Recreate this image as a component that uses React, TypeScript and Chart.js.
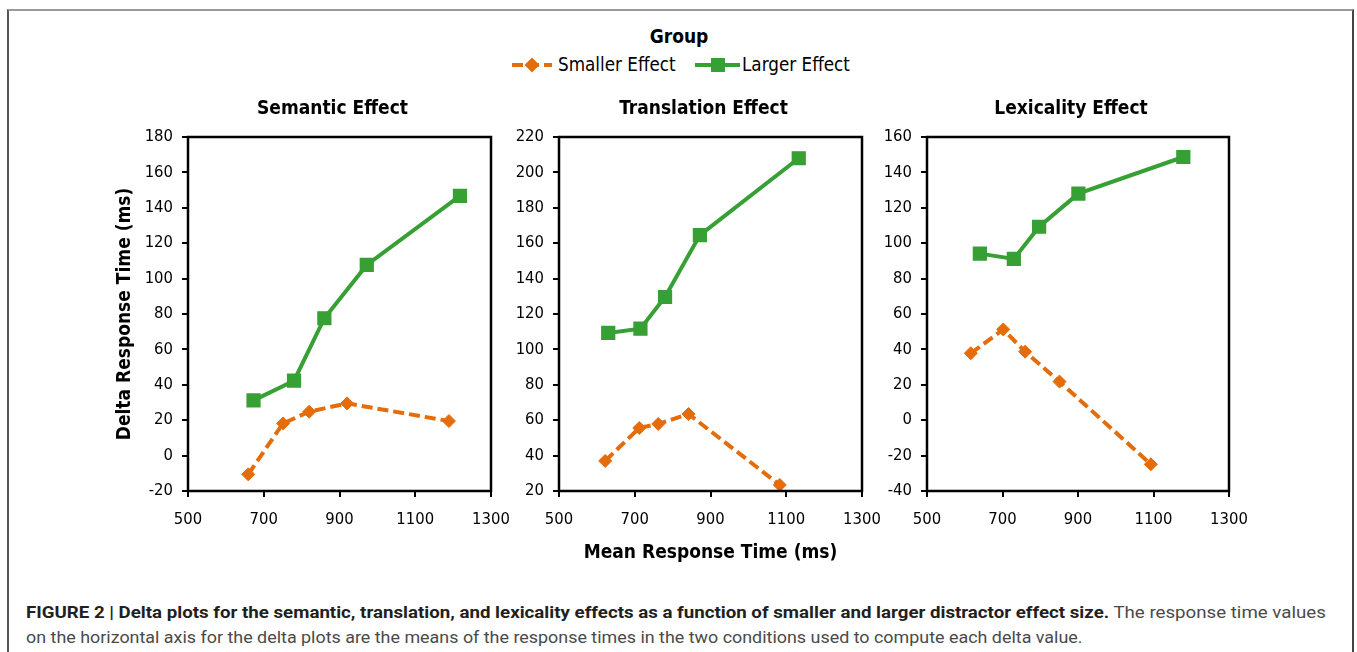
import React, { useEffect, useLayoutEffect, useRef } from 'react';
import { Chart, registerables } from 'chart.js';

Chart.register(...registerables);

// ---------- data ----------
const xTickValues = [500, 700, 900, 1100, 1300];
const seriesNames = ['Smaller Effect', 'Larger Effect'];
const panelTitles = ['Semantic Effect', 'Translation Effect', 'Lexicality Effect'];
const yMins = [-20, 20, -40];
const yMaxs = [180, 220, 160];

const semanticSmallerX = [659, 751, 820, 920, 1189];
const semanticSmallerY = [-10.6, 18.2, 24.8, 29.5, 19.5];
const semanticLargerX = [673, 780, 860, 972, 1218];
const semanticLargerY = [31.2, 42.3, 77.6, 107.7, 146.7];

const translationSmallerX = [622, 712, 762, 842, 1083];
const translationSmallerY = [37, 55.6, 57.9, 63.5, 23.4];
const translationLargerX = [630, 715, 780, 872, 1133];
const translationLargerY = [109.3, 111.7, 129.6, 164.6, 208];

const lexicalitySmallerX = [616, 702, 760, 851, 1093];
const lexicalitySmallerY = [37.8, 51.3, 38.7, 21.8, -24.9];
const lexicalityLargerX = [640, 730, 797, 901, 1179];
const lexicalityLargerY = [94.1, 91.1, 109.3, 128, 148.7];

const yAxisTitle = 'Delta Response Time (ms)';
const xAxisTitle = 'Mean Response Time (ms)';
const legendTitle = 'Group';
const captionBold = 'FIGURE 2 | Delta plots for the semantic, translation, and lexicality effects as a function of smaller and larger distractor effect size.';
const captionRest1 = ' The response time values';
const captionLine2 = 'on the horizontal axis for the delta plots are the means of the response times in the two conditions used to compute each delta value.';

// ---------- styles ----------
const ORANGE = '#E46C0A';
const GREEN = '#37A035';
const FONT = '"DejaVu Sans Condensed", "DejaVu Sans", sans-serif';
const TITLE_SIZE = 19;
const TICK_SIZE = 16.5;

const panelData = [
  [semanticSmallerX, semanticSmallerY, semanticLargerX, semanticLargerY],
  [translationSmallerX, translationSmallerY, translationLargerX, translationLargerY],
  [lexicalitySmallerX, lexicalitySmallerY, lexicalityLargerX, lexicalityLargerY],
];

const zip = (xs: number[], ys: number[]) => xs.map((x, i) => ({ x, y: ys[i] }));

// geometry of each canvas
const layouts = [
  { left: 100, top: 90, yW: 88, plotW: 303, padR: 40, xH: 40, yTitle: true, xTitle: false },
  { left: 499, top: 90, yW: 60, plotW: 303, padR: 40, xH: 75, yTitle: false, xTitle: true },
  { left: 867, top: 90, yW: 60, plotW: 302, padR: 40, xH: 40, yTitle: false, xTitle: false },
];
const TITLE_BLOCK = 47;
const PLOT_H = 354;
const TITLE_SHIFT = -7;

const framePlugin = {
  id: 'frame',
  afterLayout(chart: any) {
    const t = chart.titleBlock;
    if (t) {
      t.left += TITLE_SHIFT;
      t.right += TITLE_SHIFT;
    }
  },
  afterDraw(chart: any) {
    const { ctx, chartArea: a } = chart;
    ctx.save();
    ctx.strokeStyle = '#000';
    ctx.lineWidth = 2.5;
    ctx.strokeRect(a.left, a.top, a.right - a.left, a.bottom - a.top);
    ctx.restore();
  },
};

function canvasSize(i: number) {
  const l = layouts[i];
  return { w: l.yW + l.plotW + l.padR, h: TITLE_BLOCK + PLOT_H + l.xH };
}

export default function App() {
  const refs = [useRef<HTMLCanvasElement>(null), useRef<HTMLCanvasElement>(null), useRef<HTMLCanvasElement>(null)];
  const line1Ref = useRef<HTMLDivElement>(null);
  const line2Ref = useRef<HTMLDivElement>(null);

  useLayoutEffect(() => {
    document.body.style.margin = '0';
    const fit = (el: HTMLDivElement | null, target: number) => {
      if (!el) return;
      el.style.transform = 'none';
      const w = el.offsetWidth;
      if (w > 0) el.style.transform = `scaleX(${target / w})`;
    };
    fit(line1Ref.current, 1300);
    fit(line2Ref.current, 1057);
  }, []);

  useEffect(() => {
    const charts: Chart[] = [];
    layouts.forEach((l, i) => {
      const canvas = refs[i].current;
      if (!canvas) return;
      const [sx, sy, lx, ly] = panelData[i];
      const tickFont = { family: FONT, size: TICK_SIZE };
      const titleFont = { family: FONT, size: TITLE_SIZE, weight: 'bold' as const };
      const chart = new Chart(canvas, {
        type: 'line',
        data: {
          datasets: [
            {
              label: seriesNames[0],
              data: zip(sx, sy),
              borderColor: ORANGE,
              backgroundColor: ORANGE,
              borderWidth: 4,
              borderDash: [11, 5],
              pointStyle: 'rectRot',
              pointRadius: 6.5,
              pointBorderWidth: 1,
              pointBackgroundColor: ORANGE,
              pointBorderColor: ORANGE,
              tension: 0,
            },
            {
              label: seriesNames[1],
              data: zip(lx, ly),
              borderColor: GREEN,
              backgroundColor: GREEN,
              borderWidth: 4,
              pointStyle: 'rect',
              pointRadius: 9,
              pointBorderWidth: 1.5,
              pointBackgroundColor: GREEN,
              pointBorderColor: GREEN,
              tension: 0,
            },
          ],
        },
        options: {
          animation: false,
          responsive: false,
          devicePixelRatio: 1,
          events: [],
          layout: { padding: { left: 0, right: l.padR, top: 0, bottom: 0 } },
          plugins: {
            legend: { display: false },
            tooltip: { enabled: false },
            title: {
              display: true,
              fullSize: false,
              text: panelTitles[i],
              color: '#000',
              font: titleFont,
              padding: { top: 7.6, bottom: 16.6 },
            },
          },
          scales: {
            x: {
              type: 'linear',
              min: 500,
              max: 1300,
              afterBuildTicks: (s: any) => {
                s.ticks = xTickValues.map((v) => ({ value: v }));
              },
              afterFit: (s: any) => {
                s.height = l.xH;
              },
              border: { display: false },
              grid: { display: true, drawOnChartArea: false, drawTicks: true, tickLength: 6, color: '#000', lineWidth: 2 },
              ticks: {
                font: tickFont,
                color: '#000',
                padding: 13,
                maxRotation: 0,
                autoSkip: false,
                callback: (v: any) => String(v),
              },
              title: {
                display: l.xTitle,
                text: xAxisTitle,
                color: '#000',
                font: titleFont,
                padding: { top: 0, bottom: 1.6 },
              },
            },
            y: {
              type: 'linear',
              min: yMins[i],
              max: yMaxs[i],
              ticks: { stepSize: 20, font: tickFont, color: '#000', padding: 9, callback: (v: any) => String(v) },
              afterFit: (s: any) => {
                s.width = l.yW;
              },
              border: { display: false },
              grid: { display: true, drawOnChartArea: false, drawTicks: true, tickLength: 6, color: '#000', lineWidth: 2 },
              title: {
                display: l.yTitle,
                text: yAxisTitle,
                color: '#000',
                font: titleFont,
                padding: { top: 13.6, bottom: 0 },
              },
            },
          },
        },
        plugins: [framePlugin],
      } as any);
      charts.push(chart);
    });
    return () => charts.forEach((c) => c.destroy());
  }, []);

  const textStyle: React.CSSProperties = {
    position: 'absolute',
    fontFamily: FONT,
    fontSize: 18.7,
    lineHeight: '22px',
    color: '#000',
    whiteSpace: 'nowrap',
  };

  return (
    <div style={{ position: 'relative', width: 1357, height: 652, overflow: 'hidden', background: '#fff' }}>
      <div
        style={{
          position: 'absolute',
          left: 7,
          top: 9,
          width: 1343,
          height: 700,
          borderTop: '2px solid #9a9a9a',
          borderLeft: '2px solid #555',
          borderRight: '2px solid #444',
          boxSizing: 'content-box',
        }}
      />
      {/* legend */}
      <div style={{ ...textStyle, fontSize: TITLE_SIZE, left: 579, width: 200, top: 25, textAlign: 'center', fontWeight: 'bold' }}>
        {legendTitle}
      </div>
      <svg style={{ position: 'absolute', left: 505, top: 55 }} width={55} height={20}>
        <line x1={7} y1={10} x2={47} y2={10} stroke={ORANGE} strokeWidth={4} strokeDasharray="11 5" />
        <polygon points="27,2.5 34.5,10 27,17.5 19.5,10" fill={ORANGE} />
      </svg>
      <div style={{ ...textStyle, left: 558, top: 54 }}>{seriesNames[0]}</div>
      <svg style={{ position: 'absolute', left: 690, top: 55 }} width={55} height={20}>
        <line x1={5} y1={10} x2={50} y2={10} stroke={GREEN} strokeWidth={4} />
        <rect x={21} y={3} width={14} height={14} fill={GREEN} />
      </svg>
      <div style={{ ...textStyle, left: 742, top: 54 }}>{seriesNames[1]}</div>

      {layouts.map((l, i) => {
        const { w, h } = canvasSize(i);
        return (
          <canvas
            key={i}
            ref={refs[i]}
            width={w}
            height={h}
            style={{ position: 'absolute', left: l.left, top: l.top, width: w, height: h }}
          />
        );
      })}

      {/* caption */}
      <div
        ref={line1Ref}
        style={{
          position: 'absolute',
          left: 26,
          top: 602,
          fontFamily: 'Roboto, sans-serif',
          fontSize: 17,
          lineHeight: '20px',
          whiteSpace: 'nowrap',
          transformOrigin: '0 0',
          display: 'inline-block',
          color: '#4a4a4a',
        }}
      >
        <span style={{ fontWeight: 'bold', color: '#231f20' }}>{captionBold}</span>
        <span>{captionRest1}</span>
      </div>
      <div
        ref={line2Ref}
        style={{
          position: 'absolute',
          left: 26,
          top: 627,
          fontFamily: 'Roboto, sans-serif',
          fontSize: 17,
          lineHeight: '20px',
          whiteSpace: 'nowrap',
          transformOrigin: '0 0',
          display: 'inline-block',
          color: '#4a4a4a',
        }}
      >
        {captionLine2}
      </div>
    </div>
  );
}
